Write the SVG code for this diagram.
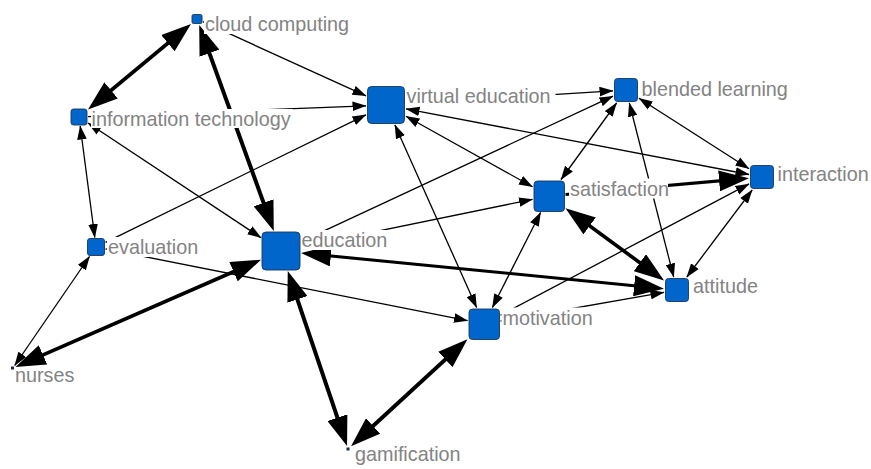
<svg xmlns="http://www.w3.org/2000/svg" width="871" height="469" viewBox="0 0 871 469">
<style>
.e{stroke:#000;fill:none}
.t{stroke-width:1.3}
.k{stroke-width:3.6}
.n{fill:#0066cc;stroke:#1b3558;stroke-width:0.9}
.d{fill:#1b2b48}
.l{font-family:"Liberation Sans",Arial,sans-serif;font-size:19.8px;fill:#838383}
.b{fill:#fff}
</style>
<defs>
<marker id="ht" markerUnits="userSpaceOnUse" markerWidth="30" markerHeight="21" refX="23" refY="10.5" orient="auto-start-reverse" viewBox="0 0 30 21"><path d="M0,0 L30,10.5 L0,21 z" fill="#000"/></marker>
<marker id="hs" markerUnits="userSpaceOnUse" markerWidth="14" markerHeight="10" refX="13.5" refY="5" orient="auto-start-reverse" viewBox="0 0 14 10"><path d="M0,0.2 L14,5 L0,9.8 z" fill="#000"/></marker>
</defs>
<rect width="871" height="469" fill="#fff"/>
<g id="connectors">
<line class="e k" x1="185.6" y1="28.5" x2="93.4" y2="105" marker-start="url(#ht)" marker-end="url(#ht)"/>
<line class="e k" style="stroke-width:4" x1="201.6" y1="31.6" x2="271.4" y2="224.4" marker-start="url(#ht)" marker-end="url(#ht)"/>
<line class="e k" x1="21.9" y1="364.1" x2="254.6" y2="262.5" marker-start="url(#ht)" marker-end="url(#ht)"/>
<line class="e k" style="stroke-width:4" x1="290" y1="277.6" x2="344.8" y2="439.4" marker-start="url(#ht)" marker-end="url(#ht)"/>
<line class="e k" style="stroke-width:4" x1="356.2" y1="441.5" x2="462.3" y2="343.9" marker-start="url(#ht)" marker-end="url(#ht)"/>
<line class="e k" style="stroke-width:3" x1="308" y1="253.7" x2="657" y2="288" marker-start="url(#ht)" marker-end="url(#ht)"/>
<line class="e k" x1="571.1" y1="212.3" x2="658.4" y2="276.3" marker-start="url(#ht)" marker-end="url(#ht)"/>
<line class="e k" style="stroke-width:3.2" x1="565.5" y1="194.5" x2="742" y2="178.8" marker-end="url(#ht)"/>
<line class="e t" x1="203" y1="21.7" x2="366" y2="95.9" marker-end="url(#hs)"/>
<line class="e t" x1="88" y1="116.6" x2="366" y2="105.8" marker-end="url(#hs)"/>
<line class="e t" x1="80.2" y1="126" x2="94.8" y2="237.5" marker-start="url(#hs)" marker-end="url(#hs)"/>
<line class="e t" x1="88" y1="123" x2="261" y2="237.7" marker-start="url(#hs)" marker-end="url(#hs)"/>
<line class="e t" x1="105.5" y1="242.3" x2="366" y2="114.8" marker-end="url(#hs)"/>
<line class="e t" x1="105.5" y1="248.9" x2="467.5" y2="320.7" marker-end="url(#hs)"/>
<line class="e t" x1="89.5" y1="256.5" x2="14.7" y2="365.5" marker-start="url(#hs)" marker-end="url(#hs)"/>
<line class="e t" x1="406" y1="103.75" x2="613" y2="90.8" marker-end="url(#hs)"/>
<line class="e t" x1="406" y1="108.8" x2="749" y2="174.5" marker-start="url(#hs)" marker-end="url(#hs)"/>
<line class="e t" x1="406" y1="116.2" x2="532.5" y2="186.8" marker-start="url(#hs)" marker-end="url(#hs)"/>
<line class="e t" x1="394.9" y1="125" x2="476.6" y2="307.5" marker-start="url(#hs)" marker-end="url(#hs)"/>
<line class="e t" x1="301" y1="241.7" x2="613" y2="96.1" marker-end="url(#hs)"/>
<line class="e t" x1="301" y1="246.9" x2="532.5" y2="199.4" marker-end="url(#hs)"/>
<line class="e t" x1="616.6" y1="103" x2="561" y2="179.5" marker-start="url(#hs)" marker-end="url(#hs)"/>
<line class="e t" x1="629.3" y1="103" x2="673.7" y2="277" marker-start="url(#hs)" marker-end="url(#hs)"/>
<line class="e t" x1="639" y1="98.3" x2="749" y2="168.7" marker-start="url(#hs)" marker-end="url(#hs)"/>
<line class="e t" x1="752.2" y1="190" x2="686.8" y2="277" marker-start="url(#hs)" marker-end="url(#hs)"/>
<line class="e t" x1="500.5" y1="315.3" x2="749" y2="183.9" marker-end="url(#hs)"/>
<line class="e t" x1="500.5" y1="321.1" x2="664" y2="292.3" marker-end="url(#hs)"/>
<line class="e t" x1="540.6" y1="212.5" x2="492.4" y2="307.5" marker-start="url(#hs)" marker-end="url(#hs)"/>
</g>
<g id="node-cloud-computing">
<rect class="b" x="204" y="14" width="148" height="20"/>
<text class="l" x="205" y="31">cloud computing</text>
<rect class="n" x="192" y="14.5" width="10" height="9" rx="1.5"/>
</g>
<g id="node-information-technology">
<rect class="b" x="91" y="109" width="202" height="19"/>
<text class="l" x="91.5" y="126">information technology</text>
<rect class="n" x="71" y="109" width="16" height="16" rx="2.5"/>
</g>
<g id="node-virtual-education">
<rect class="b" x="405.5" y="85.5" width="150" height="20"/>
<text class="l" x="406.5" y="102.5">virtual education</text>
<rect class="n" x="367.5" y="86.5" width="37" height="37" rx="4"/>
</g>
<g id="node-education">
<rect class="b" x="300.5" y="230" width="90" height="20"/>
<text class="l" x="301.5" y="247">education</text>
<rect class="n" x="262" y="232" width="38" height="38" rx="4"/>
</g>
<g id="node-evaluation">
<rect class="b" x="107" y="237" width="92" height="20"/>
<text class="l" x="108" y="254">evaluation</text>
<rect class="n" x="87.5" y="238.5" width="17" height="17" rx="2.5"/>
</g>
<g id="node-nurses">
<text class="l" x="15" y="381.5">nurses</text>
<rect class="d" x="11" y="366.5" width="3" height="3"/>
</g>
<g id="node-gamification">
<text class="l" x="355" y="460.5">gamification</text>
<rect class="d" x="346.5" y="447.5" width="3" height="3"/>
</g>
<g id="node-blended-learning">
<text class="l" x="641.5" y="96">blended learning</text>
<rect class="n" x="614.5" y="78.5" width="23" height="23" rx="3"/>
</g>
<g id="node-interaction">
<text class="l" x="777.5" y="180.5">interaction</text>
<rect class="n" x="750.5" y="165.5" width="23" height="23" rx="3"/>
</g>
<g id="node-satisfaction">
<rect class="b" x="569" y="178.5" width="99" height="20"/>
<text class="l" x="570" y="195.5">satisfaction</text>
<rect class="n" x="534" y="181" width="30.5" height="30.5" rx="3.5"/>
</g>
<g id="node-attitude">
<text class="l" x="693" y="293">attitude</text>
<rect class="n" x="665.5" y="278.5" width="23" height="23" rx="3"/>
</g>
<g id="node-motivation">
<rect class="b" x="501.5" y="307.5" width="94" height="20"/>
<text class="l" x="502.5" y="324.5">motivation</text>
<rect class="n" x="469" y="309" width="30.5" height="30.5" rx="3.5"/>
</g>
</svg>
